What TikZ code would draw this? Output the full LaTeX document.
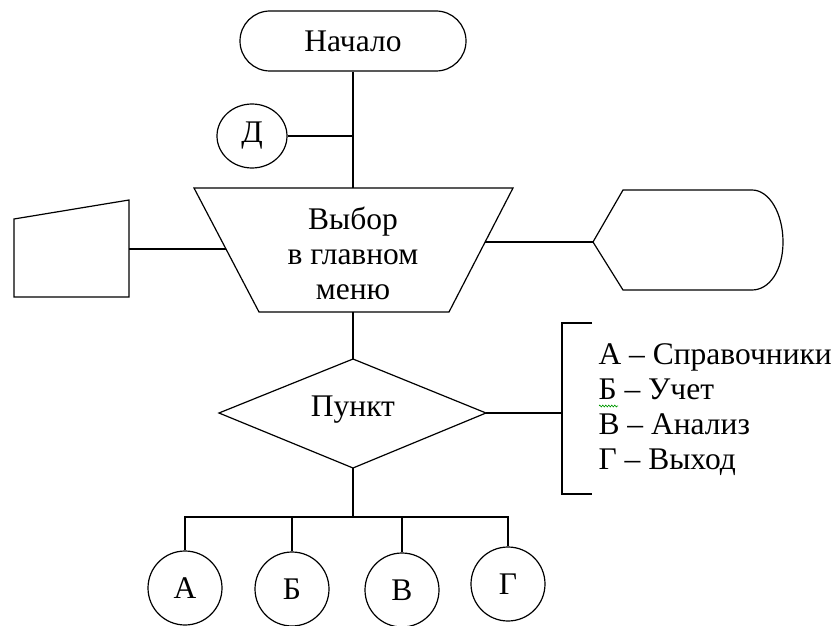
\documentclass[tikz,border=0pt]{standalone}
\usepackage{fontspec}
\setmainfont{Liberation Serif}
\usetikzlibrary{shapes.geometric,shapes.misc,decorations.pathmorphing}
\begin{document}
\begin{tikzpicture}[x=1pt,y=-1pt,line width=1.2pt,
  every node/.style={font=\fontsize{31.5}{35}\selectfont},
  term/.style={draw,rounded rectangle,minimum width=226pt,minimum height=60pt,inner sep=0pt},
  conn/.style={draw,ellipse,minimum width=70pt,minimum height=64pt,inner sep=0pt},
  circ/.style={draw,circle,minimum size=74pt,inner sep=0pt}]
\useasboundingbox (0,0) rectangle (836,626);
% terminator
\node[term] (start) at (353,41) {Начало};
% connector D
\node[conn] (d) at (252,136) {Д};
\coordinate (j1) at (353,136);
% trapezoid (manual operation)
\draw (194,188) -- (513,188) -- (449,312) -- (259,312) -- cycle;
\coordinate (trTop) at (353,188);
\coordinate (trBot) at (353,312);
\coordinate (trL) at (226,249);
\coordinate (trR) at (485,242);
\node[align=center] (menu) at (353,253) {Выбор\\в главном\\меню};
% manual input
\draw (14,219) -- (129,200) -- (129,297) -- (14,297) -- cycle;
\coordinate (miR) at (129,249);
% display
\draw (593,242) -- (623,190) -- (752,190) .. controls (769,190) and (783,213) .. (783,242)
      .. controls (783,271) and (769,290) .. (752,290) -- (623,290) -- cycle;
\coordinate (dispL) at (593,242);
% decision
\draw (353,359) -- (486,413) -- (353,468) -- (219,413) -- cycle;
\coordinate (dTop) at (353,359);
\coordinate (dRight) at (486,413);
\coordinate (dBot) at (353,468);
\node (punkt) at (353,410) {Пункт};
% annotation bracket
\draw (592,323) -- (562,323) -- (562,494) -- (592,494);
\coordinate (brM) at (562,413);
\node[anchor=west,align=left,inner sep=0pt] (ann) at (598,410)
  {А – Справочники\\Б – Учет\\В – Анализ\\Г – Выход};
\draw[green!60!black,line width=0.6pt,decorate,decoration={zigzag,segment length=3pt,amplitude=1pt}]
  (599,406) -- (618,406);
% bottom circles
\node[circ] (cA) at (185,588) {А};
\node[circ] (cB) at (292,589) {Б};
\node[circ] (cV) at (402,590) {В};
\node[circ] (cG) at (508,584) {Г};
\coordinate (bus) at (353,517);
% connectors
\draw (start.south) -- (trTop);
\draw (d.east) -- (j1);
\draw (miR) -- (trL);
\draw (trR) -- (dispL);
\draw (trBot) -- (dTop);
\draw (dRight) -- (brM);
\draw (dBot) -- (bus);
\draw (cA.north) |- (bus);
\draw (cG.north) |- (bus);
\draw (cB.north) -- (cB.north |- bus);
\draw (cV.north) -- (cV.north |- bus);
\end{tikzpicture}
\end{document}
